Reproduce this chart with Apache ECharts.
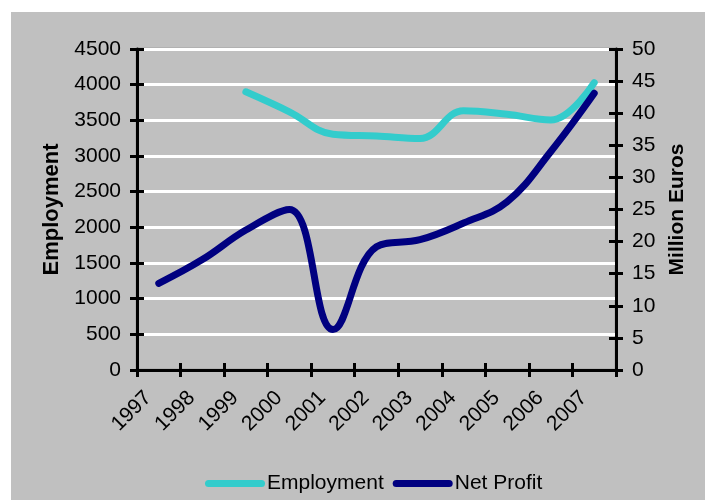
<!DOCTYPE html>
<html>
<head>
<meta charset="utf-8">
<script src="https://cdn.jsdelivr.net/npm/echarts@6/dist/echarts.min.js"></script>
<style>
  html, body { margin: 0; padding: 0; background: #ffffff; }
  #chart { width: 705px; height: 500px; }
</style>
</head>
<body>
<div id="chart"></div>
<script>
// Years on the category axis
const years = ['1997', '1998', '1999', '2000', '2001', '2002', '2003', '2004', '2005', '2006', '2007'];
// Number of employees (left axis)
const employment = [null, null, 3900, 3620, 3305, 3280, 3245, 3635, 3584, 3505, 4028];
// Net profit in million euros (right axis)
const netProfit = [13.5, 17.2, 21.8, 25.0, 6.3, 19.2, 20.3, 22.9, 26.2, 34.0, 43.1];
// Value-axis ranges
const employmentAxis = { min: 0, max: 4500, interval: 500 };
const profitAxis = { min: 0, max: 50, interval: 5 };

const FONT = 'Liberation Sans, Arial, sans-serif';
const chart = echarts.init(document.getElementById('chart'), null, { renderer: 'canvas' });

const capsule = 'path://M3.5,0 L56.5,0 A3.5,3.5 0 0 1 56.5,7 L3.5,7 A3.5,3.5 0 0 1 3.5,0 Z';
const plain = v => String(v);

function valueAxis(range, position, opts) {
  return Object.assign({
    type: 'value',
    position: position,
    min: range.min,
    max: range.max,
    interval: range.interval,
    axisLine: { show: true, onZero: false, lineStyle: { color: '#000', width: 3 } },
    axisTick: { show: true, inside: false, length: 7, lineStyle: { color: '#000', width: 3 } },
    axisLabel: { show: true, margin: 16, color: '#000', fontSize: 21, fontFamily: FONT, formatter: plain },
    splitLine: { show: false }
  }, opts);
}

chart.setOption({
  backgroundColor: '#ffffff',
  animation: false,
  graphic: [{
    type: 'rect', z: -10, silent: true,
    shape: { x: 11, y: 12, width: 705, height: 500 },
    style: { fill: '#c0c0c0' }
  }],
  grid: {
    left: 137, right: 89, top: 49, bottom: 130,
    show: true, backgroundColor: 'transparent',
    borderColor: '#858585', borderWidth: 2.5
  },
  legend: {
    left: 200, top: 468,
    itemWidth: 60, itemHeight: 7, itemGap: 9,
    icon: capsule,
    textStyle: { color: '#000', fontSize: 21, fontFamily: FONT, padding: [0, 0, 0, -3] },
    data: ['Employment', 'Net Profit']
  },
  xAxis: [{
    type: 'category',
    data: years,
    boundaryGap: true,
    position: 'bottom',
    axisLine: { show: true, lineStyle: { color: '#000', width: 3 } },
    axisTick: { show: true, inside: false, length: 7, lineStyle: { color: '#000', width: 3 } },
    axisLabel: {
      rotate: 45, margin: 14, interval: 0, color: '#000', fontSize: 21, fontFamily: FONT,
      padding: [0, 15, 0, 0]
    },
    splitLine: { show: false }
  }, {
    // inner half of the crossing category ticks
    type: 'category',
    data: years,
    boundaryGap: true,
    position: 'bottom',
    axisLine: { show: false },
    axisTick: { show: true, inside: true, length: 7, lineStyle: { color: '#000', width: 3 } },
    axisLabel: { show: false },
    splitLine: { show: false }
  }],
  yAxis: [
    valueAxis(employmentAxis, 'left', {
      name: 'Employment', nameLocation: 'middle', nameRotate: 90, nameGap: 72,
      nameTextStyle: { color: '#000', fontSize: 22, fontWeight: 'bold', fontFamily: FONT },
      splitLine: { show: true, lineStyle: { color: '#ffffff', width: 3 } }
    }),
    valueAxis(profitAxis, 'right', {
      name: 'Million Euros', nameLocation: 'middle', nameRotate: 90, nameGap: 50,
      nameTextStyle: { color: '#000', fontSize: 21, fontWeight: 'bold', fontFamily: FONT }
    }),
    // inner halves of the crossing value ticks
    valueAxis(employmentAxis, 'left', {
      axisLine: { show: false },
      axisTick: { show: true, inside: true, length: 7, lineStyle: { color: '#000', width: 3 } },
      axisLabel: { show: false }
    }),
    valueAxis(profitAxis, 'right', {
      axisLine: { show: false },
      axisTick: { show: true, inside: true, length: 7, lineStyle: { color: '#000', width: 3 } },
      axisLabel: { show: false }
    })
  ],
  series: [{
    name: 'Employment',
    type: 'line',
    xAxisIndex: 0,
    yAxisIndex: 0,
    data: employment,
    smooth: 0.4,
    showSymbol: false,
    symbol: 'none',
    color: '#33cccc',
    lineStyle: { color: '#33cccc', width: 7, cap: 'round', join: 'round' },
    z: 3
  }, {
    name: 'Net Profit',
    type: 'line',
    xAxisIndex: 0,
    yAxisIndex: 1,
    data: netProfit,
    smooth: 0.4,
    showSymbol: false,
    symbol: 'none',
    color: '#000080',
    lineStyle: { color: '#000080', width: 7, cap: 'round', join: 'round' },
    z: 4
  }]
});
</script>
</body>
</html>
